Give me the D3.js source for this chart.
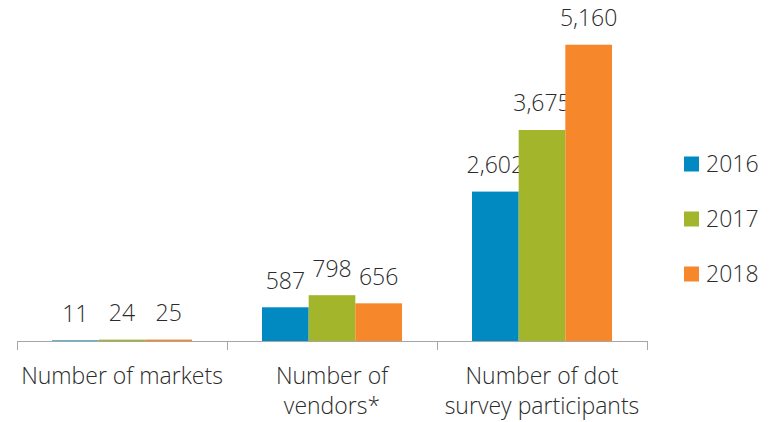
<!DOCTYPE html>
<html>
<head>
<meta charset="utf-8">
<script src="https://cdn.jsdelivr.net/npm/d3@7"></script>
<style>
  html, body { margin: 0; padding: 0; background: #fff; }
  svg { display: block; font-family: "Open Sans", sans-serif; font-weight: 300; }
</style>
</head>
<body>
<svg id="chart" width="776" height="422"></svg>
<script>
const categories = [["Number of markets"], ["Number of", "vendors*"], ["Number of dot", "survey participants"]];
const years = ["2016", "2017", "2018"];
const values2016 = [11, 587, 2602];
const values2017 = [24, 798, 3675];
const values2018 = [25, 656, 5160];
const colors = ["#008ac1", "#a3b52b", "#f6872b"];

const series = [values2016, values2017, values2018];
const svg = d3.select("#chart");
const textColor = "#2b2b2b";
const axisY = 341;
const fs = 23;

const x0 = d3.scaleBand().domain(d3.range(categories.length)).range([17, 647]).paddingInner(0).paddingOuter(0);
const x1 = d3.scaleBand().domain(years).range([35, 175]);
const y = d3.scaleLinear().domain([0, 6000]).range([axisY, axisY - 6000 * 0.05742]);

const g = svg.append("g");
categories.forEach((cat, ci) => {
  years.forEach((yr, si) => {
    const v = series[si][ci];
    const bx = x0(ci) + x1(yr);
    g.append("rect")
      .attr("x", bx)
      .attr("y", y(v))
      .attr("width", x1.bandwidth())
      .attr("height", axisY - y(v))
      .attr("fill", colors[si]);
    g.append("text")
      .attr("x", bx + x1.bandwidth() / 2)
      .attr("y", y(v) - 18.5)
      .attr("text-anchor", "middle")
      .attr("font-size", fs)
      .attr("fill", textColor)
      .text(d3.format(",")(v));
  });
});

// axis
const ax = svg.append("g");
ax.append("line").attr("x1", 17).attr("x2", 647).attr("y1", axisY + 0.5).attr("y2", axisY + 0.5)
  .attr("stroke", "#a6a6a6").attr("stroke-width", 1);
d3.range(categories.length + 1).forEach(i => {
  const tx = Math.round(17 + i * x0.bandwidth()) + 0.5;
  ax.append("line").attr("x1", tx).attr("x2", tx).attr("y1", axisY).attr("y2", axisY + 9)
    .attr("stroke", "#a6a6a6").attr("stroke-width", 1);
});
categories.forEach((lines, ci) => {
  const t = ax.append("text")
    .attr("x", x0(ci) + x0.bandwidth() / 2)
    .attr("y", 384)
    .attr("text-anchor", "middle")
    .attr("font-size", fs)
    .attr("fill", textColor);
  lines.forEach((ln, li) => {
    t.append("tspan").attr("x", x0(ci) + x0.bandwidth() / 2).attr("y", 384 + li * 30).text(ln);
  });
});

// legend
const leg = svg.append("g");
years.forEach((yr, i) => {
  const cy = 164 + i * 55;
  leg.append("rect").attr("x", 684).attr("y", cy - 7.5).attr("width", 15).attr("height", 15).attr("fill", colors[i]);
  leg.append("text").attr("x", 706).attr("y", cy + 8).attr("font-size", fs).attr("fill", textColor).text(yr);
});
</script>
</body>
</html>
